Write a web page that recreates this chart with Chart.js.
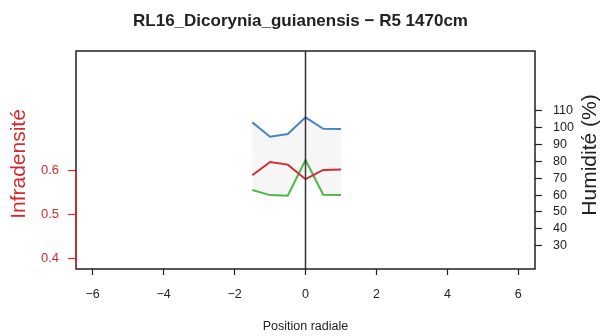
<!DOCTYPE html>
<html>
<head>
<meta charset="utf-8">
<script src="https://cdn.jsdelivr.net/npm/chart.js@4/dist/chart.umd.min.js"></script>
<style>
  html, body { margin: 0; padding: 0; background: #fff; }
</style>
</head>
<body>
<canvas id="chart" width="601" height="336"></canvas>
<script>
// valeurs
const positions = [-1.5, -1, -0.5, 0, 0.5, 1];
const infradensite = [0.590, 0.620, 0.614, 0.581, 0.602, 0.603];
const humiditeHaut = [103.1, 94.6, 96.2, 106.1, 99.3, 99.2];
const humiditeBas = [63.0, 60.0, 59.6, 80.8, 60.2, 60.0];
const xTicks = [-6, -4, -2, 0, 2, 4, 6];
const leftTicks = [0.4, 0.5, 0.6];
const rightTicks = [30, 40, 50, 60, 70, 80, 90, 100, 110];

const RED = '#d42a2f';
const BLUE = '#4a84c4';
const GREEN = '#4db848';
const FONT = '"Liberation Sans", Arial, Helvetica, sans-serif';

const pts = vals => positions.map((x, i) => ({ x: x, y: vals[i] }));
const fixTicks = list => scale => { scale.ticks = list.map(v => ({ value: v })); };

const decor = {
    id: 'decor',
    afterDatasetsDraw(chart) {
        const ctx = chart.ctx;
        const a = chart.chartArea;
        const x = chart.scales.x;
        const yl = chart.scales.yLeft;
        ctx.save();
        // ligne verticale a 0
        ctx.strokeStyle = '#333';
        ctx.lineWidth = 1.5;
        ctx.beginPath();
        ctx.moveTo(x.getPixelForValue(0), a.top);
        ctx.lineTo(x.getPixelForValue(0), a.bottom);
        ctx.stroke();
        // cadre
        ctx.strokeStyle = '#222';
        ctx.lineWidth = 1.5;
        ctx.strokeRect(a.left, a.top, a.right - a.left, a.bottom - a.top);
        // axe gauche rouge
        ctx.strokeStyle = RED;
        ctx.beginPath();
        ctx.moveTo(a.left, yl.getPixelForValue(0.6));
        ctx.lineTo(a.left, a.bottom);
        ctx.stroke();
        // titres des axes y
        ctx.font = '21px ' + FONT;
        ctx.textAlign = 'center';
        ctx.textBaseline = 'middle';
        ctx.fillStyle = RED;
        ctx.translate(19, 164);
        ctx.rotate(-Math.PI / 2);
        ctx.fillText('Infradensité', 0, 0);
        ctx.restore();
        ctx.save();
        ctx.font = '21px ' + FONT;
        ctx.textAlign = 'center';
        ctx.textBaseline = 'middle';
        ctx.fillStyle = '#222';
        ctx.translate(590, 155);
        ctx.rotate(-Math.PI / 2);
        ctx.fillText('Humidité (%)', 0, 0);
        ctx.restore();
    }
};

new Chart(document.getElementById('chart'), {
    type: 'line',
    data: {
        datasets: [
            {
                label: 'Infradensité',
                data: pts(infradensite),
                yAxisID: 'yLeft',
                borderColor: RED,
                borderWidth: 2,
                pointRadius: 0,
                fill: false
            },
            {
                label: 'Humidité haut',
                data: pts(humiditeHaut),
                yAxisID: 'yRight',
                borderColor: BLUE,
                borderWidth: 2,
                pointRadius: 0,
                fill: { target: 2 },
                backgroundColor: '#f6f6f6'
            },
            {
                label: 'Humidité bas',
                data: pts(humiditeBas),
                yAxisID: 'yRight',
                borderColor: GREEN,
                borderWidth: 2,
                pointRadius: 0,
                fill: false
            }
        ]
    },
    options: {
        responsive: false,
        animation: false,
        layout: { padding: 0 },
        plugins: {
            legend: { display: false },
            tooltip: { enabled: false },
            filler: { drawTime: 'beforeDatasetsDraw' },
            title: {
                display: true,
                text: 'RL16_Dicorynia_guianensis − R5 1470cm',
                color: '#222',
                font: { family: FONT, size: 17, weight: 'bold' },
                padding: { top: 11, bottom: 19.6 }
            }
        },
        scales: {
            x: {
                type: 'linear',
                min: -6.47,
                max: 6.47,
                afterBuildTicks: fixTicks(xTicks),
                afterFit: s => { s.height = 67; },
                border: { display: false },
                grid: { drawOnChartArea: false, tickLength: 6, color: '#222', tickWidth: 1.2 },
                ticks: {
                    color: '#222',
                    font: { family: FONT, size: 12.5 },
                    padding: 12,
                    maxRotation: 0,
                    callback: v => String(v).replace('-', '\u2212')
                },
                title: {
                    display: true,
                    text: 'Position radiale',
                    color: '#222',
                    font: { family: FONT, size: 12.5 },
                    padding: { top: 0, bottom: 1.5 }
                }
            },
            yLeft: {
                type: 'linear',
                position: 'left',
                min: 0.377,
                max: 0.872,
                afterBuildTicks: fixTicks(leftTicks),
                afterFit: s => { s.width = 76; },
                border: { display: false },
                grid: { drawOnChartArea: false, tickLength: 8, color: RED, tickWidth: 1.2 },
                ticks: {
                    color: RED,
                    font: { family: FONT, size: 13 },
                    padding: 9,
                    callback: v => v.toFixed(1)
                }
            },
            yRight: {
                type: 'linear',
                position: 'right',
                min: 16.2,
                max: 145.4,
                afterBuildTicks: fixTicks(rightTicks),
                afterFit: s => { s.width = 66; },
                border: { display: false },
                grid: { drawOnChartArea: false, tickLength: 7, color: '#222', tickWidth: 1.2 },
                ticks: {
                    color: '#222',
                    font: { family: FONT, size: 12.5 },
                    padding: 11
                }
            }
        }
    },
    plugins: [decor]
});
</script>
</body>
</html>
